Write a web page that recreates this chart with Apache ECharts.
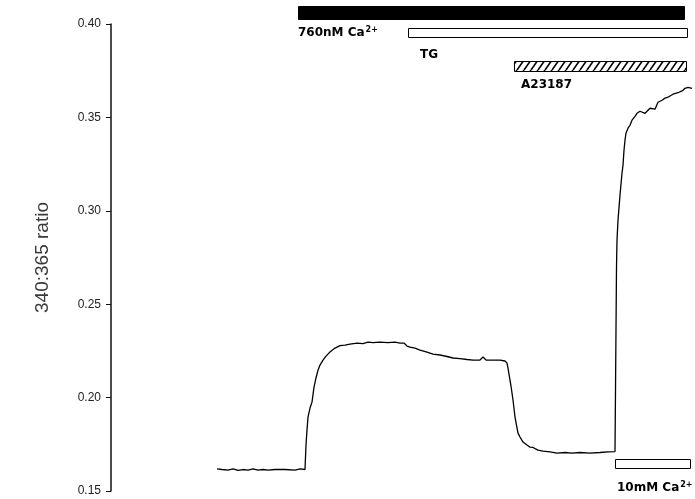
<!DOCTYPE html>
<html>
<head>
<meta charset="utf-8">
<script src="https://cdn.jsdelivr.net/npm/echarts@6/dist/echarts.min.js"></script>
<style>
  html, body { margin: 0; padding: 0; background: #fff; }
  #chart { width: 695px; height: 499px; }
</style>
</head>
<body>
<div id="chart"></div>
<script>
// Recording time (s) and fura-2 340:365 ratio
const timeSec = [
  106, 111, 117, 122, 127, 132, 137, 142, 147, 152, 157, 164, 174, 184, 189, 194,
  195, 196, 197, 199, 201, 203, 205, 207, 209, 212, 215, 219, 224, 229, 234, 239,
  246, 252, 257, 262, 269, 277, 284, 289, 293, 296, 299, 304, 309, 316, 322, 329,
  336, 342, 349, 356, 362, 369, 372, 375, 381, 389, 394, 396, 397, 399, 400, 402,
  404, 407, 409, 412, 416, 419, 422, 427, 432, 439, 446, 454, 461, 469, 479, 489,
  497, 504, 505, 505.5, 506, 507, 509, 511, 512, 513, 514, 515, 517, 519, 521, 524,
  526, 529, 531, 534, 536, 539, 541, 544, 547, 551, 554, 557, 559, 562, 564, 567,
  569, 572, 574, 577, 579, 581
];
const ratio = [
  0.1618, 0.1615, 0.1612, 0.1618, 0.1610, 0.1615, 0.1612, 0.1618, 0.1612, 0.1615,
  0.1612, 0.1615, 0.1615, 0.1612, 0.1618, 0.1615,
  0.1746, 0.1826, 0.1896, 0.1944, 0.1976, 0.2056, 0.2105, 0.2147, 0.2174, 0.2201,
  0.2222, 0.2244, 0.2265, 0.2278, 0.2281, 0.2286, 0.2292, 0.2289, 0.2297, 0.2294,
  0.2297, 0.2294, 0.2297, 0.2292, 0.2292, 0.2276, 0.2270, 0.2265, 0.2254, 0.2244,
  0.2233, 0.2228, 0.2220, 0.2212, 0.2209, 0.2204, 0.2201, 0.2201, 0.2217, 0.2201,
  0.2201, 0.2201, 0.2196, 0.2185, 0.2158, 0.2094, 0.2062, 0.1987, 0.1896, 0.1810,
  0.1789, 0.1762, 0.1746, 0.1735, 0.1733, 0.1719, 0.1714, 0.1709, 0.1703, 0.1706,
  0.1703, 0.1706, 0.1703, 0.1706, 0.1709, 0.1711, 0.1709, 0.2698, 0.2843, 0.2950,
  0.3084, 0.3201, 0.3244, 0.3324, 0.3378, 0.3415, 0.3442, 0.3458, 0.3485, 0.3506,
  0.3522, 0.3533, 0.3538, 0.3522, 0.3528, 0.3549, 0.3554, 0.3544, 0.3581, 0.3592,
  0.3603, 0.3608, 0.3605, 0.3624, 0.3629, 0.3632, 0.3635, 0.3645, 0.3656, 0.3661,
  0.3651, 0.3656
];
const yTickLabels = ['0.15', '0.20', '0.25', '0.30', '0.35', '0.40'];

// Treatment periods (s)
const treatmentNames = ['760nM Ca', 'TG', 'A23187', '10mM Ca'];
const treatmentStart = [187, 297, 403, 504];
const treatmentEnd = [573, 576, 575, 579];

const chart = echarts.init(document.getElementById('chart'), null, { renderer: 'canvas' });

const font = '"Liberation Sans", Arial, sans-serif';
const labelFont = '"DejaVu Sans", "Liberation Sans", Arial, sans-serif';
const yMin = Number(yTickLabels[0]);
const yMax = Number(yTickLabels[yTickLabels.length - 1]);

chart.setOption({
  animation: false,
  backgroundColor: '#fff',
  grid: { left: 111, right: 2, top: 24, bottom: 8, containLabel: false },
  xAxis: {
    type: 'value', min: 0, max: 582, show: false
  },
  yAxis: {
    type: 'value', min: yMin, max: yMax, interval: 0.05,
    name: '340:365 ratio', nameLocation: 'middle', nameGap: 59,
    nameTextStyle: { fontFamily: font, fontSize: 19, color: '#3a3a3a' },
    axisLine: { show: true, lineStyle: { color: '#111', width: 1.5 } },
    axisTick: { show: true, inside: false, length: 5, lineStyle: { color: '#111', width: 1 } },
    axisLabel: {
      margin: 10, fontFamily: font, fontSize: 12, color: '#222',
      formatter: v => yTickLabels.find(s => Math.abs(Number(s) - v) < 1e-6) || v.toFixed(2)
    },
    splitLine: { show: false }
  },
  series: [{
    type: 'line',
    data: timeSec.map((t, i) => [t, ratio[i]]),
    showSymbol: false,
    smooth: false,
    lineStyle: { color: '#000', width: 1.3 },
    clip: false
  }]
});

// Hatched fill for the ionophore bar
function hatchPattern() {
  const c = document.createElement('canvas');
  c.width = 7; c.height = 10;
  const g = c.getContext('2d');
  g.fillStyle = '#fff';
  g.fillRect(0, 0, 7, 10);
  g.strokeStyle = '#000';
  g.lineWidth = 1.6;
  g.beginPath();
  g.moveTo(-1, 10); g.lineTo(6, 0);
  g.moveTo(6, 10); g.lineTo(13, 0);
  g.stroke();
  return c;
}

const px = t => chart.convertToPixel({ xAxisIndex: 0 }, t);
const bold = 'bold 12px ' + labelFont;
const rich = {
  b: { font: bold, fill: '#000' },
  sup: { font: 'bold 8px ' + labelFont, fill: '#000', verticalAlign: 'top', padding: [0, 0, 7, 1] }
};

// Row layout for each treatment bar: top, height, label offset/row
const rows = [
  { top: 6, h: 13, kind: 'solid', lx: 0, ly: 33, sup: true },
  { top: 28, h: 9, kind: 'open', lx: 12, ly: 55 },
  { top: 61, h: 10, kind: 'hatch', lx: 7, ly: 85 },
  { top: 459, h: 9, kind: 'open', lx: 2, ly: 488, sup: true }
];

const graphics = [];
treatmentNames.forEach((name, i) => {
  const r = rows[i];
  const x0 = px(treatmentStart[i]);
  const x1 = px(treatmentEnd[i]);
  let fill = '#fff';
  if (r.kind === 'solid') fill = '#000';
  if (r.kind === 'hatch') fill = { image: hatchPattern(), repeat: 'repeat' };
  graphics.push({
    type: 'rect',
    shape: { x: Math.round(x0) + 0.5, y: r.top + 0.5, width: x1 - x0, height: r.h },
    style: { fill: fill, stroke: '#000', lineWidth: 1 },
    silent: true
  });
  graphics.push({
    type: 'text',
    x: x0 + r.lx,
    y: r.ly,
    style: {
      text: r.sup ? '{b|' + name + '}{sup|2+}' : '{b|' + name + '}',
      rich: rich,
      font: bold,
      fill: '#000',
      verticalAlign: 'middle',
      align: 'left'
    },
    silent: true
  });
});

chart.setOption({ graphic: graphics });
</script>
</body>
</html>
